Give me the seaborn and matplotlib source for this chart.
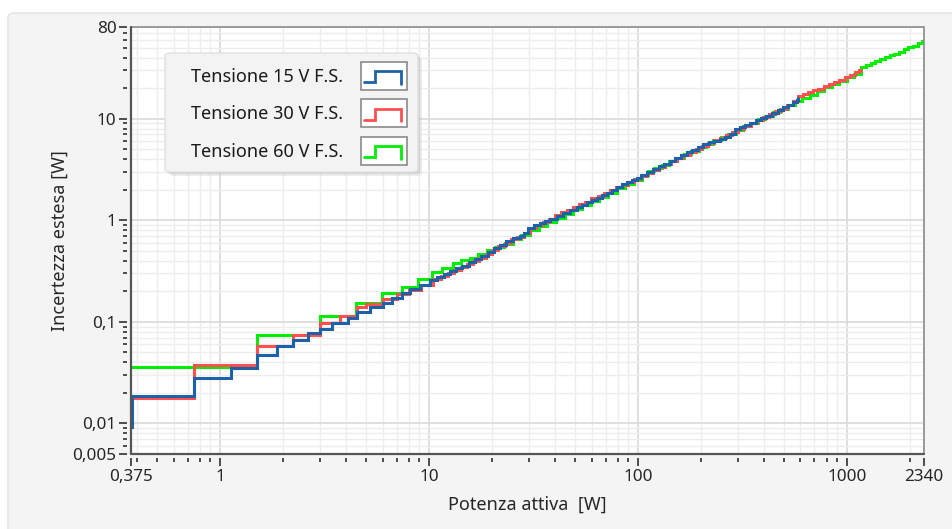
import matplotlib
matplotlib.use("Agg")
import matplotlib.pyplot as plt
import seaborn as sns
from matplotlib.lines import Line2D
from matplotlib.patches import Rectangle, FancyBboxPatch
from matplotlib.legend_handler import HandlerBase

# ---- data: extended uncertainty [W] vs active power [W], one staircase per voltage range ----
p15 = [0.375, 0.38, 0.75, 1.13, 1.5, 1.87, 2.24, 2.65, 3.0, 3.42, 4.1, 4.51, 5.22, 6.05,
       6.63, 7.4, 8.1, 9.05, 10.1, 10.9, 11.8, 12.6, 13.5, 14.4, 15.5, 16.6, 17.8, 19.1,
       20.4, 21.9, 23.5, 25.3, 27.3, 28.6, 29.9, 31.9, 34.0, 36.0, 38.0, 40.8, 43.8, 47.3,
       51.1, 53.9, 56.9, 60.1, 63.5, 67.1, 70.9, 74.9, 79.2, 83.7, 88.5, 93.5, 98.9, 104,
       111, 118.6, 126, 134, 142, 151, 161, 171, 182, 194, 206, 219, 232, 246, 262, 276,
       291, 308, 325, 344, 366, 388, 411, 438, 466, 496, 523, 550, 575, 585]
u15 = [0.0092, 0.0185, 0.028, 0.0355, 0.047, 0.058, 0.067, 0.078, 0.086, 0.098, 0.110,
       0.125, 0.141, 0.155, 0.173, 0.194, 0.209, 0.229, 0.258, 0.275, 0.296, 0.316, 0.336,
       0.356, 0.385, 0.414, 0.445, 0.49, 0.53, 0.57, 0.625, 0.665, 0.70, 0.75, 0.847, 0.895,
       0.95, 0.99, 1.04, 1.11, 1.19, 1.27, 1.36, 1.43, 1.51, 1.59, 1.67, 1.77, 1.87, 2.00,
       2.15, 2.26, 2.38, 2.50, 2.63, 2.78, 2.97, 3.18, 3.40, 3.62, 3.84, 4.10, 4.37, 4.65,
       4.95, 5.28, 5.62, 5.85, 6.05, 6.27, 6.65, 7.05, 7.87, 8.30, 8.72, 9.15, 9.70, 10.2,
       10.7, 11.4, 12.1, 12.9, 13.7, 14.5, 15.2, 16.0]

p30 = [0.375, 0.75, 1.5, 2.24, 3.0, 3.75, 4.55, 5.0, 6.0, 7.0, 8.0, 9.2, 10.5, 11.4, 12.3,
       13.2, 14.2, 15.2, 16.3, 17.4, 18.7, 20.0, 21.5, 23.0, 24.7, 26.5, 28.4, 30.5, 32.7,
       35.0, 37.4, 40.0, 42.8, 45.8, 49.0, 52.4, 56.0, 59.9, 64.1, 68.6, 73.4, 78.5, 84.0,
       89.9, 96.2, 103, 110, 118, 126, 135, 144, 154, 165, 177, 189, 202, 216, 231, 247,
       264, 283, 302, 323, 346, 370, 396, 424, 453, 485, 519, 555, 585, 615, 650, 690, 730,
       775, 820, 870, 920, 975, 1030, 1090, 1140, 1170]
u30 = [0.0178, 0.038, 0.058, 0.075, 0.098, 0.114, 0.139, 0.149, 0.168, 0.188, 0.208,
       0.233, 0.262, 0.285, 0.305, 0.325, 0.350, 0.372, 0.400, 0.430, 0.465, 0.510, 0.555,
       0.600, 0.650, 0.690, 0.745, 0.840, 0.905, 0.960, 1.03, 1.12, 1.21, 1.27, 1.36, 1.44,
       1.53, 1.64, 1.74, 1.87, 1.99, 2.12, 2.25, 2.38, 2.55, 2.74, 2.93, 3.14, 3.37, 3.60,
       3.86, 4.12, 4.42, 4.75, 5.08, 5.42, 5.78, 6.12, 6.45, 6.85, 7.35, 7.95, 8.55, 9.15,
       9.75, 10.4, 11.05, 11.8, 12.6, 13.5, 15.0, 16.8, 17.6, 18.2, 19.0, 19.8, 20.8, 21.9,
       23.1, 24.3, 25.5, 26.9, 28.6, 30.0, 30.4]

p60 = [0.375, 1.5, 3.0, 4.47, 5.94, 7.4, 8.9, 10.3, 11.6, 13.0, 14.3, 15.7, 17.2, 18.9,
       20.8, 22.9, 25.2, 27.7, 30.5, 33.5, 36.9, 40.6, 44.6, 49.1, 54.0, 59.4, 65.3, 71.9,
       79.1, 87.0, 95.7, 105, 112, 120, 130, 141, 153, 166, 180, 195, 212, 230, 250, 271,
       294, 319, 346, 375, 407, 442, 479, 520, 564, 612, 664, 720, 781, 847, 919, 997, 1080,
       1170, 1230, 1300, 1370, 1440, 1520, 1600, 1690, 1780, 1870, 1970, 2070, 2180, 2280,
       2340]
u60 = [0.036, 0.075, 0.114, 0.152, 0.191, 0.222, 0.262, 0.310, 0.340, 0.383, 0.405, 0.430,
       0.470, 0.510, 0.545, 0.590, 0.650, 0.710, 0.800, 0.880, 0.960, 1.06, 1.16, 1.28,
       1.41, 1.55, 1.70, 1.87, 2.06, 2.27, 2.50, 2.80, 3.05, 3.28, 3.52, 3.80, 4.12, 4.48,
       4.85, 5.25, 5.68, 6.12, 6.60, 7.15, 7.75, 8.40, 9.10, 9.85, 10.7, 11.6, 12.6, 13.6,
       14.8, 16.0, 17.3, 18.8, 20.3, 21.9, 23.6, 25.5, 27.5, 32.0, 33.6, 35.4, 37.2, 38.6,
       40.2, 42.0, 43.8, 45.9, 48.2, 50.6, 52.3, 55.5, 58.2, 59.7]

labels = ["Tensione 15 V F.S.", "Tensione 30 V F.S.", "Tensione 60 V F.S."]
colors = ["#1d62a8", "#ff4f4f", "#00ee00"]

x_major = [0.375, 1, 10, 100, 1000, 2340]
x_major_labels = ["0,375", "1", "10", "100", "1000", "2340"]
y_major = [0.005, 0.01, 0.1, 1, 10, 80]
y_major_labels = ["0,005", "0,01", "0,1", "1", "10", "80"]

x_minor = [0.4, 0.5, 0.6, 0.7, 0.8, 0.9] + [m * d for d in (1, 10, 100) for m in range(2, 10)] + [2000]
y_minor = [0.006, 0.007, 0.008, 0.009] + [m * d for d in (0.01, 0.1, 1) for m in range(2, 10)] + \
          [20, 30, 40, 50, 60, 70]

# ---- style ----
sns.set_theme(style="white")
plt.rcParams["font.family"] = ["Noto Sans", "DejaVu Sans"]
plt.rcParams["text.color"] = "#1a1a1a"

fig = plt.figure(figsize=(9.53, 5.29), dpi=100, facecolor="white")
W, H = 953, 529

# light grey panel behind the graph
panel = FancyBboxPatch((8 / W, -0.05), 1.2, 1 - 13 / H + 0.05,
                       boxstyle="round,pad=0,rounding_size=0.008",
                       transform=fig.transFigure, facecolor="#f4f4f4",
                       edgecolor="#e2e2e2", lw=1.0, zorder=-10)
fig.patches.append(panel)

ax = fig.add_axes([131 / W, 1 - 454 / H, (924 - 131) / W, (454 - 27) / H])
ax.set_zorder(1)
ax.set_facecolor("white")

series = [(p15, u15), (p30, u30), (p60, u60)]
# draw 60 V first so that the narrower ranges sit on top
for idx in (2, 1, 0):
    xs, ys = series[idx]
    sns.lineplot(x=xs, y=ys, ax=ax, color=colors[idx], lw=2.2, label=labels[idx],
                 drawstyle="steps-post", estimator=None, sort=False,
                 solid_joinstyle="miter", zorder=3 + (2 - idx))
if ax.get_legend() is not None:
    ax.get_legend().remove()

ax.set_xscale("log")
ax.set_yscale("log")
ax.set_xlim(0.375, 2340)
ax.set_ylim(0.005, 80)

ax.set_xticks(x_major, x_major_labels)
ax.set_xticks(x_minor, minor=True)
ax.set_xticklabels([], minor=True)
ax.set_yticks(y_major, y_major_labels)
ax.set_yticks(y_minor, minor=True)
ax.set_yticklabels([], minor=True)

ax.grid(which="major", color="#d9d9d9", lw=1.2, zorder=0)
ax.grid(which="minor", color="#ededed", lw=1.0, zorder=0)
ax.set_axisbelow(True)

# ticks detached from the frame, drawn below/left of it
for s in ("left", "bottom"):
    ax.spines[s].set_position(("outward", 3))
for s in ax.spines.values():
    s.set_visible(False)
frame = Rectangle((0, 0), 1, 1, transform=ax.transAxes, fill=False,
                  edgecolor="#8c8c8c", lw=1.2, zorder=6, clip_on=False)
ax.add_patch(frame)
ax.plot([0, 0, 1], [1, 0, 0], transform=ax.transAxes, color="#555555", lw=1.6,
        zorder=7, clip_on=False)

ax.tick_params(which="both", direction="out", color="#202020", width=1.1,
               left=True, bottom=True, top=False, right=False)
ax.tick_params(which="major", length=5.5, labelsize=12.3, pad=2)
ax.tick_params(which="minor", length=3)

ax.set_xlabel("Potenza attiva  [W]", fontsize=13, labelpad=8)
ax.set_ylabel("Incertezza estesa [W]", fontsize=13, labelpad=3)


class StepBoxHandler(HandlerBase):
    """Legend key: small white box with a step-shaped trace."""

    def create_artists(self, legend, orig_handle, xdescent, ydescent, width, height,
                       fontsize, trans):
        x0, y0 = -xdescent, -ydescent
        box = Rectangle((x0, y0), width, height, facecolor="white",
                        edgecolor="#8a8a8a", lw=1.2, transform=trans)
        xs = [x0 + 0.07 * width, x0 + 0.30 * width, x0 + 0.30 * width,
              x0 + 0.87 * width, x0 + 0.87 * width]
        ys = [y0 + 0.28 * height, y0 + 0.28 * height, y0 + 0.66 * height,
              y0 + 0.66 * height, y0 + 0.22 * height]
        line = Line2D(xs, ys, color=orig_handle.get_color(), lw=2.0,
                      transform=trans, solid_joinstyle="miter")
        return [box, line]


# legend panel with a soft drop shadow
lx0, ly0, lx1, ly1 = 165, 53, 418, 172
for off, col, a in ((4, "#c8c8c8", 0.35), (2, "#bdbdbd", 0.45)):
    sh = FancyBboxPatch(((lx0 + off) / W, 1 - (ly1 + off) / H), (lx1 - lx0) / W,
                        (ly1 - ly0) / H, boxstyle="round,pad=0,rounding_size=0.006",
                        transform=fig.transFigure, facecolor=col, edgecolor="none",
                        alpha=a, zorder=2)
    fig.patches.append(sh)
legbox = FancyBboxPatch((lx0 / W, 1 - ly1 / H), (lx1 - lx0) / W, (ly1 - ly0) / H,
                        boxstyle="round,pad=0,rounding_size=0.006",
                        transform=fig.transFigure, facecolor="#f3f3f3",
                        edgecolor="#e0e0e0", lw=1.0, zorder=3)
fig.patches.append(legbox)

handles, labs = ax.get_legend_handles_labels()
handles = [handles[labs.index(l)] for l in labels]
leg = fig.legend(handles, labels, handler_map={Line2D: StepBoxHandler()},
                 loc="upper right", bbox_to_anchor=(407 / W, 1 - 62 / H),
                 markerfirst=False, fontsize=13, handlelength=2.55, handleheight=2.0,
                 labelspacing=0.53, handletextpad=1.0, borderpad=0.0, borderaxespad=0.0,
                 frameon=False)
leg.set_zorder(5)

fig.savefig("out.png", dpi=100, facecolor=fig.get_facecolor())
